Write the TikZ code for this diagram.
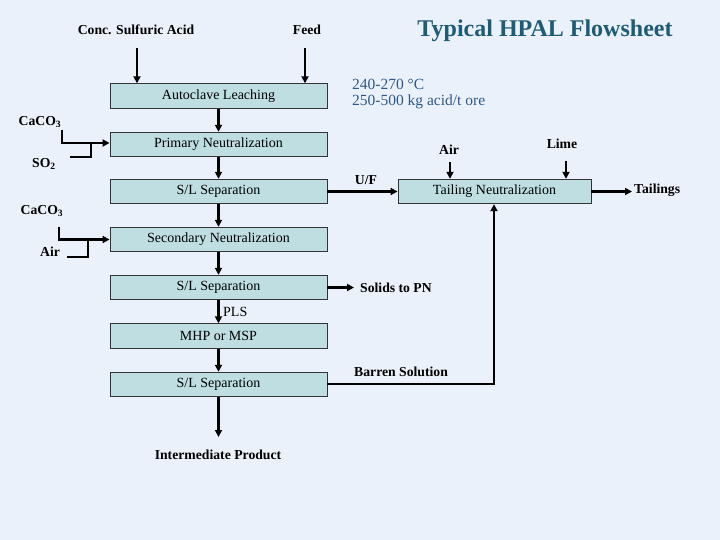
\documentclass[tikz,border=0pt]{standalone}
\usepackage{fontspec}
\setmainfont{Liberation Serif}
\usetikzlibrary{arrows.meta}
\definecolor{bgc}{RGB}{235,241,250}
\definecolor{boxc}{RGB}{190,222,226}
\definecolor{titlec}{RGB}{30,92,118}
\definecolor{notec}{RGB}{46,88,136}
\tikzset{
  box/.style={draw=black!80, line width=0.9pt, fill=boxc, minimum width=217pt, minimum height=24.5pt, inner sep=0pt, font=\fontsize{14}{16}\selectfont},
  lbl/.style={inner sep=0pt, font=\bfseries\fontsize{13.7}{16}\selectfont},
  note/.style={inner sep=0pt, anchor=west, text=notec, font=\fontsize{15.5}{18}\selectfont},
  arr/.style={line width=2.2pt, -{Triangle[length=7pt,width=7pt]}},
  ln/.style={line width=2.2pt}
}
\begin{document}
\begin{tikzpicture}[x=1pt,y=-1pt]
\fill[bgc] (0,0) rectangle (720,540);
\useasboundingbox (0,0) rectangle (720,540);

% main column
\node[box] (al)  at (218.5,96)   {Autoclave Leaching};
\node[box] (pn)  at (218.5,144.5) {Primary Neutralization};
\node[box] (sl1) at (218.5,191.5) {S/L Separation};
\node[box] (sn)  at (218.5,239.5) {Secondary Neutralization};
\node[box] (sl2) at (218.5,287.5) {S/L Separation};
\node[box] (mhp) at (218.5,336)   {MHP or MSP};
\node[box] (sl3) at (218.5,384.5) {S/L Separation};
\node[box, minimum width=193pt] (tn) at (494.5,191.5) {Tailing Neutralization};

% title and notes
\node[inner sep=0pt, text=titlec, font=\bfseries\fontsize{24}{28}\selectfont] (title) at (545,31) {Typical HPAL Flowsheet};
\node[note] (n1) at (352,84) {240-270 °C};
\node[note] (n2) at (352,102) {250-500 kg acid/t ore};

% labels
\node[lbl] (csa) at (136,30) {Conc. Sulfuric Acid};
\node[lbl] (feed) at (307,30) {Feed};
\node[lbl] (ca1) at (40,122) {CaCO\textsubscript{3}};
\node[lbl] (so2) at (44,164) {SO\textsubscript{2}};
\node[lbl] (ca2) at (42,211) {CaCO\textsubscript{3}};
\node[lbl] (air1) at (50,252) {Air};
\node[lbl] (uf) at (366,180) {U/F};
\node[lbl] (air2) at (449,150) {Air};
\node[lbl] (lime) at (562,144) {Lime};
\node[lbl, anchor=west] (tail) at (634,190) {Tailings};
\node[lbl, anchor=west] (sol) at (360,288) {Solids to PN};
\node[lbl, anchor=west] (bar) at (354,372) {Barren Solution};
\node[lbl] (ip) at (218,455) {Intermediate Product};
\node[inner sep=0pt, font=\fontsize{14}{16}\selectfont, anchor=west] (pls) at (223,312) {PLS};

% feeds to autoclave
\coordinate (csaS) at (137,48);
\coordinate (feedS) at (305,48);
\draw[arr] (csaS) -- (csaS |- al.north);
\draw[arr] (feedS) -- (feedS |- al.north);

% main chain
\draw[arr] (al) -- (pn);
\draw[arr] (pn) -- (sl1);
\draw[arr] (sl1) -- (sn);
\draw[arr] (sn) -- (sl2);
\draw[arr] (sl2) -- (mhp);
\draw[arr] (mhp) -- (sl3);
\coordinate (ipT) at (218.5,437);
\draw[arr] (sl3) -- (ipT);

% CaCO3 / SO2 into primary neutralization
\coordinate (c1a) at (62,130);
\coordinate (c1b) at (62,143);
\coordinate (s1a) at (70,157);
\coordinate (s1b) at (91,157);
\draw[arr] (c1a) -- (c1b) -- (pn.west |- c1b);
\draw[ln] (s1a) -- (s1b) -- (s1b |- c1b);

% CaCO3 / Air into secondary neutralization
\coordinate (c2a) at (59,227);
\coordinate (c2b) at (59,239.5);
\coordinate (a2a) at (67,257);
\coordinate (a2b) at (88,257);
\draw[arr] (c2a) -- (c2b) -- (sn.west |- c2b);
\draw[ln] (a2a) -- (a2b) -- (a2b |- c2b);

% U/F to tailing neutralization
\draw[arr] (sl1.east) -- (tn.west);
\coordinate (air2S) at (450,162);
\coordinate (limeS) at (566,161);
\draw[arr] (air2S) -- (air2S |- tn.north);
\draw[arr] (limeS) -- (limeS |- tn.north);
\coordinate (tailE) at (632,191.5);
\draw[arr] (tn.east) -- (tailE);

% solids to PN
\coordinate (solE) at (354,287.5);
\draw[arr] (sl2.east) -- (solE);

% barren solution
\coordinate (barC) at (494,384);
\draw[arr] (sl3.east |- barC) -- (barC) -- (barC |- tn.south);
\end{tikzpicture}
\end{document}
